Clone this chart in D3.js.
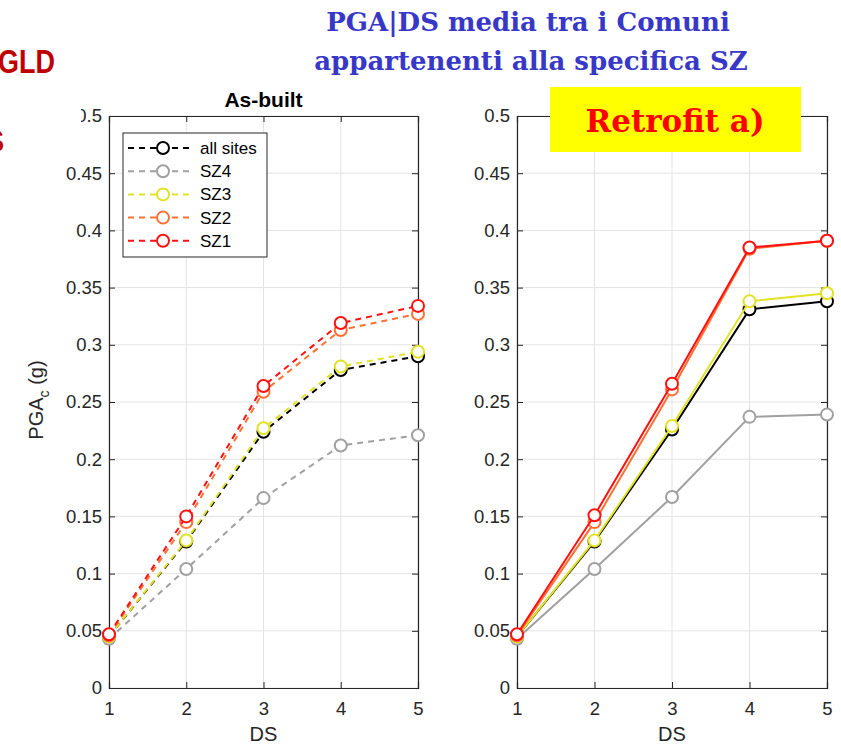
<!DOCTYPE html>
<html><head><meta charset="utf-8">
<script src="https://cdn.jsdelivr.net/npm/d3@7"></script>
<style>body{margin:0;background:#fff}svg{display:block}</style>
</head><body>
<script>
const ds = [1, 2, 3, 4, 5];
const seriesNames = ["all sites", "SZ4", "SZ3", "SZ2", "SZ1"];
const seriesColors = ["#000000", "#a0a0a0", "#e2e224", "#ff7033", "#ff1111"];
// As-built
const asAll = [0.045, 0.128, 0.224, 0.278, 0.290];
const asSZ4 = [0.043, 0.104, 0.166, 0.212, 0.221];
const asSZ3 = [0.045, 0.129, 0.227, 0.281, 0.294];
const asSZ2 = [0.046, 0.145, 0.259, 0.313, 0.327];
const asSZ1 = [0.047, 0.150, 0.264, 0.319, 0.334];
// Retrofit a)
const rfAll = [0.045, 0.128, 0.226, 0.331, 0.338];
const rfSZ4 = [0.043, 0.104, 0.167, 0.237, 0.239];
const rfSZ3 = [0.045, 0.129, 0.229, 0.338, 0.345];
const rfSZ2 = [0.046, 0.145, 0.261, 0.384, 0.391];
const rfSZ1 = [0.047, 0.151, 0.266, 0.385, 0.391];
const yTicks = [0, 0.05, 0.1, 0.15, 0.2, 0.25, 0.3, 0.35, 0.4, 0.45, 0.5];
const xTicks = [1, 2, 3, 4, 5];

const W = 841, H = 744;
const sans = "Liberation Sans, Arial, sans-serif";
const svg = d3.select("body").append("svg").attr("width", W).attr("height", H);

function panel(x0, x1, y0, y1, data, dashed, ylabel, title) {
  const x = d3.scaleLinear().domain([1, 5]).range([x0, x1]);
  const y = d3.scaleLinear().domain([0, 0.5]).range([y1, y0]);
  const g = svg.append("g");
  g.selectAll(".gx").data(xTicks).join("line")
    .attr("x1", d => x(d)).attr("x2", d => x(d)).attr("y1", y0).attr("y2", y1)
    .attr("stroke", "#e3e3e3").attr("stroke-width", 1);
  g.selectAll(".gy").data(yTicks).join("line")
    .attr("x1", x0).attr("x2", x1).attr("y1", d => y(d)).attr("y2", d => y(d))
    .attr("stroke", "#e3e3e3").attr("stroke-width", 1);
  const ax = g.append("g").attr("transform", `translate(0,${y1})`)
    .call(d3.axisBottom(x).tickValues(xTicks).tickSize(-6).tickPadding(14).tickFormat(d3.format("d")));
  const ay = g.append("g").attr("transform", `translate(${x0},0)`)
    .call(d3.axisLeft(y).tickValues(yTicks).tickSize(-6).tickPadding(7).tickFormat(d => d === 0 ? "0" : String(d)));
  const axT = g.append("g").attr("transform", `translate(0,${y0})`)
    .call(d3.axisTop(x).tickValues(xTicks).tickSize(-6).tickFormat(""));
  const ayR = g.append("g").attr("transform", `translate(${x1},0)`)
    .call(d3.axisRight(y).tickValues(yTicks).tickSize(-6).tickFormat(""));
  [ax, ay, axT, ayR].forEach(a => {
    a.selectAll("path").attr("stroke", "#262626").attr("stroke-width", 1.2);
    a.selectAll("line").attr("stroke", "#262626");
    a.selectAll("text").attr("fill", "#262626").style("font-family", sans).style("font-size", "18.5px");
  });
  ax.selectAll("text").attr("dy", "0.71em");
  g.append("text").attr("x", (x0 + x1) / 2).attr("y", 741).attr("text-anchor", "middle")
    .style("font-family", sans).style("font-size", "20px").attr("fill", "#262626").text("DS");
  if (ylabel) {
    const t = g.append("text").attr("transform", `translate(43,${(y0 + y1) / 2 - 2}) rotate(-90)`)
      .attr("text-anchor", "middle")
      .style("font-family", sans).style("font-size", "20px").attr("fill", "#262626");
    t.append("tspan").text("PGA");
    t.append("tspan").attr("dy", 6).style("font-size", "14px").text("c");
    t.append("tspan").attr("dy", -6).text(" (g)");
  }
  if (title) {
    g.append("text").attr("x", (x0 + x1) / 2).attr("y", 107).attr("text-anchor", "middle")
      .style("font-family", sans).style("font-size", "21px").style("font-weight", "bold")
      .attr("fill", "#000").text(title);
  }
  const line = d3.line().x((d, i) => x(ds[i])).y(d => y(d));
  data.forEach((s, k) => {
    g.append("path").attr("d", line(s)).attr("fill", "none")
      .attr("stroke", seriesColors[k]).attr("stroke-width", 2)
      .attr("stroke-dasharray", dashed ? "6,5" : null);
    g.selectAll(null).data(s).join("circle")
      .attr("cx", (d, i) => x(ds[i])).attr("cy", d => y(d)).attr("r", 6)
      .attr("fill", "#fff").attr("stroke", seriesColors[k]).attr("stroke-width", 2);
  });
  return {x, y};
}

panel(109, 418, 116, 688, [asAll, asSZ4, asSZ3, asSZ2, asSZ1], true, true, "As-built");
panel(517, 827, 116, 688, [rfAll, rfSZ4, rfSZ3, rfSZ2, rfSZ1], false, false, null);

// legend
const lg = svg.append("g");
lg.append("rect").attr("x", 123).attr("y", 133).attr("width", 144).attr("height", 124)
  .attr("fill", "#fff").attr("stroke", "#262626").attr("stroke-width", 1);
seriesNames.forEach((n, k) => {
  const yy = 148 + k * 23.2;
  lg.append("line").attr("x1", 128).attr("x2", 189).attr("y1", yy).attr("y2", yy)
    .attr("stroke", seriesColors[k]).attr("stroke-width", 2).attr("stroke-dasharray", "6,5");
  lg.append("circle").attr("cx", 163).attr("cy", yy).attr("r", 6).attr("fill", "#fff")
    .attr("stroke", seriesColors[k]).attr("stroke-width", 2);
  lg.append("text").attr("x", 200).attr("y", yy + 6).text(n)
    .style("font-family", sans).style("font-size", "17px").attr("fill", "#000");
});

// slide overlays
const serif = "DejaVu Serif, Liberation Serif, serif";
svg.append("rect").attr("x", 0).attr("y", 100).attr("width", 81).attr("height", 40).attr("fill", "#fff");
svg.append("text").attr("x", 528).attr("y", 31).attr("text-anchor", "middle")
  .style("font-family", serif).style("font-weight", "bold").style("font-size", "26px").attr("fill", "#3838c8")
  .text("PGA|DS media tra i Comuni");
svg.append("text").attr("x", 531).attr("y", 70).attr("text-anchor", "middle")
  .style("font-family", serif).style("font-weight", "bold").style("font-size", "26px").attr("fill", "#3838c8")
  .text("appartenenti alla specifica SZ");
svg.append("text").attr("x", -2).attr("y", 73)
  .attr("textLength", 57).attr("lengthAdjust", "spacingAndGlyphs")
  .style("font-family", sans).style("font-weight", "bold").style("font-size", "34px").attr("fill", "#c00000")
  .text("GLD");
svg.append("text").attr("x", -17).attr("y", 152)
  .style("font-family", sans).style("font-weight", "bold").style("font-size", "32px").attr("fill", "#c00000")
  .text("S");
svg.append("rect").attr("x", 550).attr("y", 87).attr("width", 251).attr("height", 65).attr("fill", "#ffff00");
svg.append("text").attr("x", 675).attr("y", 132).attr("text-anchor", "middle")
  .style("font-family", serif).style("font-weight", "bold").style("font-size", "31px").attr("fill", "#ff0000")
  .text("Retrofit a)");
</script>
</body></html>
